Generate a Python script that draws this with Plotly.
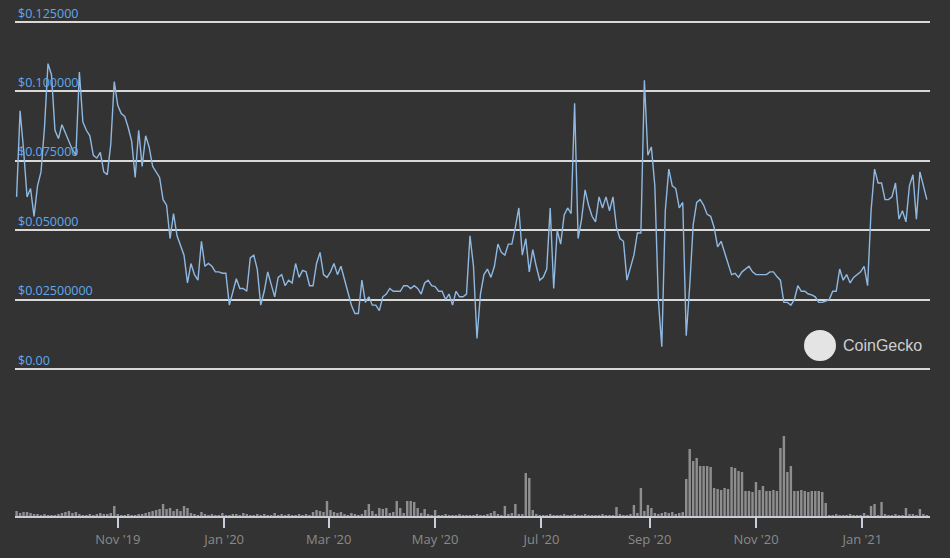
import plotly.graph_objects as go
import pandas as pd

start_date = "2019-09-04"

price = [
    0.062, 0.093, 0.079, 0.062, 0.065, 0.055, 0.066, 0.071, 0.087, 0.110,
    0.106, 0.086, 0.083, 0.088, 0.085, 0.082, 0.079, 0.077, 0.107, 0.089,
    0.086, 0.084, 0.077, 0.076, 0.078, 0.071, 0.070, 0.081, 0.1035, 0.095,
    0.092, 0.091, 0.087, 0.082, 0.069, 0.086, 0.073, 0.084, 0.080, 0.073,
    0.071, 0.069, 0.061, 0.059, 0.047, 0.056, 0.048, 0.0444, 0.041, 0.031,
    0.038, 0.034, 0.032, 0.046, 0.037, 0.038, 0.037, 0.035, 0.035, 0.0345,
    0.0345, 0.023, 0.028, 0.0325, 0.029, 0.029, 0.028, 0.040, 0.041, 0.036,
    0.023, 0.028, 0.035, 0.030, 0.026, 0.033, 0.034, 0.030, 0.032, 0.031,
    0.038, 0.033, 0.0355, 0.035, 0.030, 0.030, 0.038, 0.042, 0.034, 0.033,
    0.035, 0.038, 0.034, 0.037, 0.032, 0.027, 0.023, 0.020, 0.020, 0.032,
    0.024, 0.026, 0.023, 0.023, 0.021, 0.026, 0.027, 0.029, 0.028, 0.028,
    0.028, 0.030, 0.030, 0.029, 0.030, 0.029, 0.027, 0.031, 0.032, 0.030,
    0.0297, 0.028, 0.028, 0.025, 0.027, 0.023, 0.028, 0.026, 0.026, 0.027,
    0.048, 0.037, 0.011, 0.027, 0.034, 0.036, 0.033, 0.037, 0.045, 0.042,
    0.041, 0.045, 0.045, 0.051, 0.058, 0.041, 0.047, 0.035, 0.043, 0.037,
    0.032, 0.033, 0.036, 0.058, 0.029, 0.050, 0.045, 0.0555, 0.058, 0.056,
    0.0957, 0.047, 0.054, 0.0645, 0.059, 0.055, 0.053, 0.062, 0.058, 0.062,
    0.057, 0.062, 0.051, 0.047, 0.046, 0.032, 0.037, 0.041, 0.049, 0.049,
    0.104, 0.077, 0.080, 0.066, 0.025, 0.008, 0.057, 0.072, 0.066, 0.065,
    0.058, 0.060, 0.012, 0.030, 0.052, 0.060, 0.061, 0.059, 0.0557, 0.055,
    0.051, 0.044, 0.046, 0.042, 0.038, 0.034, 0.0345, 0.033, 0.035, 0.036,
    0.037, 0.035, 0.034, 0.034, 0.034, 0.034, 0.035, 0.035, 0.0333, 0.032,
    0.024, 0.024, 0.023, 0.025, 0.030, 0.028, 0.028, 0.027, 0.0267, 0.026,
    0.024, 0.024, 0.0245, 0.025, 0.028, 0.028, 0.036, 0.032, 0.034, 0.031,
    0.033, 0.034, 0.035, 0.037, 0.030, 0.057, 0.072, 0.067, 0.067, 0.061,
    0.061, 0.062, 0.067, 0.054, 0.057, 0.053, 0.066, 0.070, 0.054, 0.071,
    0.066, 0.061,
]

volume = [
    5, 3, 4, 4, 3, 2, 2, 1, 2, 1,
    1, 1, 2, 3, 4, 5, 3, 4, 2, 1,
    1, 2, 1, 2, 3, 2, 2, 3, 10, 2,
    1, 1, 2, 1, 1, 2, 2, 3, 4, 5,
    6, 7, 12, 7, 8, 5, 7, 5, 10, 8,
    3, 2, 1, 4, 2, 1, 2, 1, 1, 3,
    1, 1, 2, 2, 1, 3, 2, 1, 1, 2,
    1, 2, 1, 1, 3, 1, 2, 1, 2, 1,
    1, 2, 1, 2, 1, 4, 6, 5, 4, 15,
    6, 4, 3, 4, 2, 1, 3, 2, 1, 2,
    6, 12, 5, 2, 8, 7, 8, 3, 4, 15,
    8, 3, 15, 15, 14, 8, 3, 7, 2, 1,
    6, 1, 1, 2, 1, 1, 1, 2, 1, 1,
    1, 1, 2, 1, 1, 2, 3, 5, 2, 1,
    10, 2, 3, 12, 2, 2, 43, 38, 6, 2,
    1, 1, 1, 2, 1, 1, 1, 2, 1, 1,
    2, 1, 1, 2, 1, 1, 1, 1, 2, 1,
    1, 1, 9, 2, 1, 1, 2, 11, 3, 28,
    5, 11, 8, 3, 2, 3, 4, 3, 4, 2,
    3, 4, 37, 67, 55, 58, 50, 50, 50, 49,
    28, 27, 26, 28, 27, 49, 48, 45, 44, 25,
    25, 24, 34, 26, 30, 25, 25, 26, 25, 68,
    80, 44, 50, 25, 25, 26, 25, 24, 25, 25,
    25, 24, 13, 1, 1, 2, 1, 1, 1, 2,
    1, 1, 1, 3, 1, 10, 12, 1, 14, 2,
    1, 1, 2, 1, 1, 8, 2, 2, 1, 7,
    2, 1,
]

tick_dates = ["2019-11-01", "2020-01-01", "2020-03-01", "2020-05-01",
              "2020-07-01", "2020-09-01", "2020-11-01", "2021-01-01"]
tick_labels = ["Nov '19", "Jan '20", "Mar '20", "May '20",
               "Jul '20", "Sep '20", "Nov '20", "Jan '21"]
price_ticks = [0, 0.025, 0.05, 0.075, 0.1, 0.125]
price_tick_labels = ["$0.00", "$0.02500000", "$0.050000", "$0.075000",
                     "$0.100000", "$0.125000"]

dates = pd.date_range(start_date, periods=len(price), freq="2D")

BG = "#333333"

fig = go.Figure()
fig.add_trace(go.Bar(
    x=dates, y=volume, xaxis="x", yaxis="y2",
    marker=dict(color="#8e8e8e", line=dict(width=0)),
    hoverinfo="skip",
))
fig.add_trace(go.Scatter(
    x=dates, y=price, xaxis="x", yaxis="y",
    mode="lines", line=dict(color="#8fb9e2", width=1.4),
))

fig.update_layout(
    width=950, height=558,
    margin=dict(l=15, r=20, t=0, b=42),
    paper_bgcolor=BG, plot_bgcolor=BG,
    showlegend=False, bargap=0.3,
    font=dict(family="Open Sans, Noto Sans, sans-serif"),
    xaxis=dict(
        type="date", anchor="y2",
        range=["2019-09-03 02:00", "2021-02-08 19:00"],
        tickmode="array", tickvals=tick_dates, ticktext=tick_labels,
        ticks="outside", ticklen=10, tickwidth=2, tickcolor="#c9ccd9",
        showline=True, linecolor="#c9ccd9", linewidth=2,
        showgrid=False, zeroline=False,
        tickfont=dict(color="#8a8a8a", size=13),
    ),
    yaxis=dict(
        domain=[1 - 380 / 516, 1],
        range=[(369 - 380) / 2776, 369 / 2776],
        tickmode="array", tickvals=price_ticks, ticktext=price_tick_labels,
        ticklabelposition="inside top",
        tickfont=dict(color="#5fa9ee", size=12.5),
        showgrid=True, gridcolor="#d9d9d9", gridwidth=1.5,
        zeroline=False, showline=False, ticks="",
    ),
    yaxis2=dict(
        domain=[0, 86 / 516], range=[0, 86],
        showgrid=False, zeroline=False, showticklabels=False, showline=False,
    ),
)

# CoinGecko watermark
fig.add_shape(type="circle", xref="paper", yref="paper",
              x0=(804 - 15) / 915, x1=(836 - 15) / 915,
              y0=(516 - 361) / 516, y1=(516 - 330) / 516,
              fillcolor="#e4e4e4", line=dict(width=0), layer="above")
fig.add_annotation(text="CoinGecko", xref="paper", yref="paper",
                   x=(841 - 15) / 915, y=(516 - 345) / 516,
                   xanchor="left", yanchor="middle", showarrow=False,
                   font=dict(size=16, color="#cfcfcf",
                             family="Liberation Sans, Arial, sans-serif"))

fig.write_html(
    "out.html",
    config={"displayModeBar": False},
    post_script="document.body.style.margin='0';document.body.style.background='#333333';",
)
